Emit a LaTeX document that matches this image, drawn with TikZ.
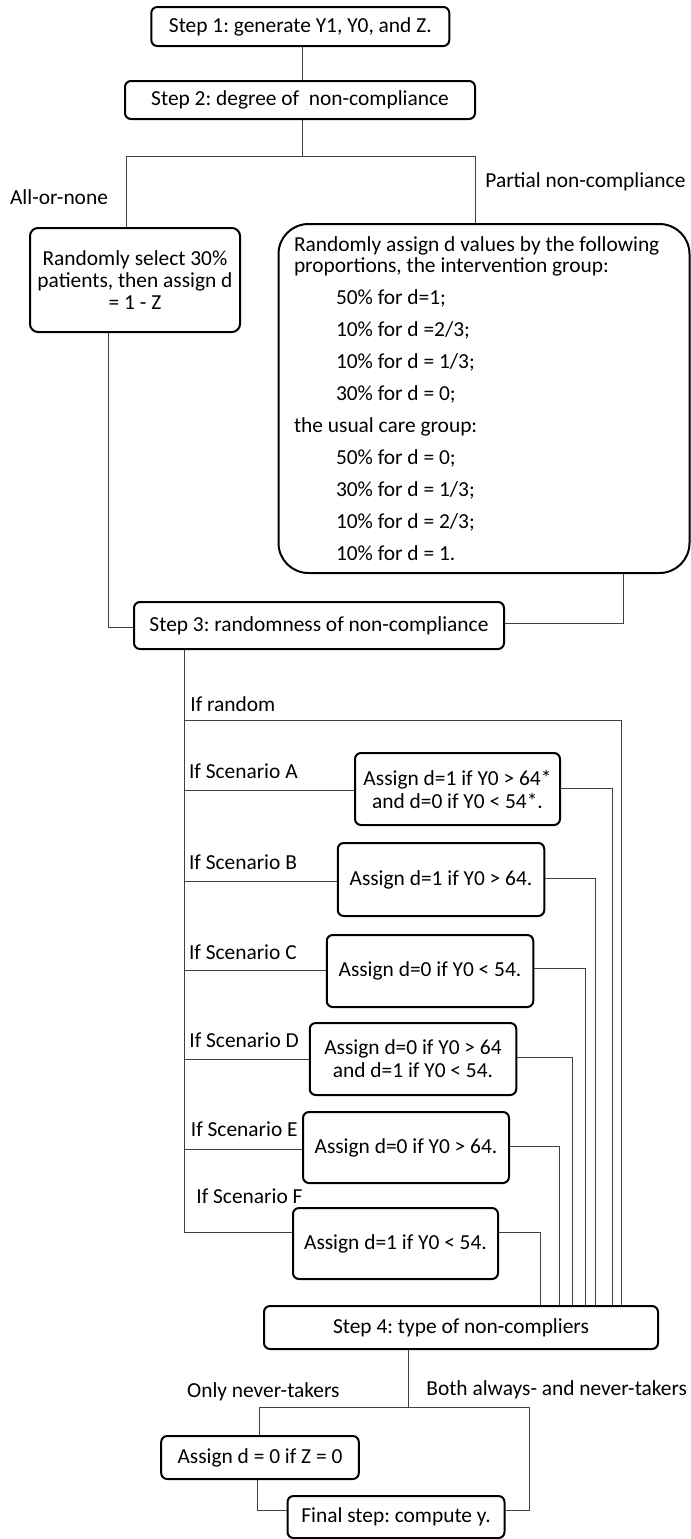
\documentclass[tikz,border=0pt]{standalone}
\usepackage{fontspec}
\setmainfont{Carlito}
\frenchspacing
\begin{document}
\begin{tikzpicture}[x=0.5pt,y=-0.5pt,
  font=\fontsize{10.7}{11.5}\selectfont,
  box/.style={draw=black, line width=1pt, rounded corners=3pt, align=center, inner sep=0pt, fill=white},
  link/.style={draw=black!75, line width=0.5pt},
  lab/.style={anchor=west, inner sep=0pt}]
\useasboundingbox (0,0) rectangle (691,1539);

% ---- main steps ----
\node[box, minimum width=149pt, minimum height=19.5pt] (s1) at (300.3,26.5) {Step 1: generate Y1, Y0, and Z.};
\node[box, minimum width=175pt, minimum height=19pt] (s2) at (300,100) {Step 2: degree of~ non-compliance};

% ---- step 2 branches ----
\node[box, rounded corners=4pt, minimum width=105pt, minimum height=52pt,
      font=\fontsize{10.7}{11}\selectfont] (L) at (135,280)
  {Randomly select 30\%\\patients, then assign d\\= 1 - Z};
\node[box, rounded corners=15pt, minimum width=205.5pt, minimum height=174.5pt,
      text width=190pt, inner xsep=7.75pt, align=flush left,
      font=\fontsize{10.7}{10.5}\selectfont] (R) at (484,398.5)
  {Randomly assign d values by the following\\
   proportions, the intervention group:\\[5.5pt]
   \hspace*{21pt}50\% for d=1;\\[5.5pt]
   \hspace*{21pt}10\% for d =2/3;\\[5.5pt]
   \hspace*{21pt}10\% for d = 1/3;\\[5.5pt]
   \hspace*{21pt}30\% for d = 0;\\[5.5pt]
   the usual care group:\\[5.5pt]
   \hspace*{21pt}50\% for d = 0;\\[5.5pt]
   \hspace*{21pt}30\% for d = 1/3;\\[5.5pt]
   \hspace*{21pt}10\% for d = 2/3;\\[5.5pt]
   \hspace*{21pt}10\% for d = 1.};

\node[lab] (lAll) at (9.7,197) {All-or-none};
\node[lab] (lPart) at (485,182) {Partial non-compliance};

\node[box, minimum width=185pt, minimum height=23.5pt] (s3) at (319,625.5) {Step 3: randomness of non-compliance};

% ---- step 3 scenarios ----
\node[box, minimum width=102.5pt, minimum height=36pt] (A) at (457.5,789) {Assign d=1 if Y0 > 64*\\and d=0 if Y0 < 54*.};
\node[box, minimum width=103.25pt, minimum height=36.5pt] (B) at (441,879.5) {Assign d=1 if Y0 > 64.};
\node[box, minimum width=103.25pt, minimum height=36pt] (C) at (430,971) {Assign d=0 if Y0 < 54.};
\node[box, minimum width=103.25pt, minimum height=36pt] (D) at (413,1059) {Assign d=0 if Y0 > 64\\and d=1 if Y0 < 54.};
\node[box, minimum width=103pt, minimum height=35.5pt] (E) at (406,1147.5) {Assign d=0 if Y0 > 64.};
\node[box, minimum width=102.5pt, minimum height=35.5pt] (F) at (395.5,1243.5) {Assign d=1 if Y0 < 54.};

\node[lab] (lRand) at (190,704) {If random};
\node[lab] (lA) at (188.6,771) {If Scenario A};
\node[lab] (lB) at (188.6,862) {If Scenario B};
\node[lab] (lC) at (188.6,952) {If Scenario C};
\node[lab] (lD) at (189,1040) {If Scenario D};
\node[lab] (lE) at (190.5,1129) {If Scenario E};
\node[lab] (lF) at (196,1196) {If Scenario F};

\node[box, minimum width=197pt, minimum height=21.5pt] (s4) at (461,1327.5) {Step 4: type of non-compliers};

% ---- step 4 branches ----
\node[box, minimum width=98.8pt, minimum height=21.5pt] (G) at (260,1457.5) {Assign d = 0 if Z = 0};
\node[box, minimum width=108.5pt, minimum height=21pt] (fin) at (396,1517) {Final step: compute y.};

\node[lab] (lOnly) at (186.7,1392) {Only never-takers};
\node[lab] (lBoth) at (426,1390) {Both always- and never-takers};

% ---- connectors: steps 1-2 ----
\coordinate (j2) at (302,156);
\coordinate (j2l) at (126.5,156);
\coordinate (j2r) at (475,156);
\draw[link] (s1.south -| j2) -- (s2.north -| j2);
\draw[link] (s2.south -| j2) -- (j2);
\draw[link] (j2l) -- (j2r);
\draw[link] (j2l) -- (L.north -| j2l);
\draw[link] (j2r) -- (R.north -| j2r);

% ---- connectors: into step 3 ----
\coordinate (xl) at (108,627);
\coordinate (xr) at (623.6,623);
\draw[link] (L.south -| xl) -- (xl) -- (s3.west |- xl);
\draw[link] (R.south -| xr) -- (xr) -- (s3.east |- xr);

% ---- connectors: step 3 trunk and scenarios ----
\coordinate (tR) at (184,720);
\coordinate (tA) at (184,790);
\coordinate (tB) at (184,881);
\coordinate (tC) at (184,970);
\coordinate (tD) at (184,1059);
\coordinate (tE) at (184,1149);
\coordinate (tF) at (184,1232);
\coordinate (kR) at (621.4,720);
\coordinate (kA) at (612,788);
\coordinate (kB) at (595,878);
\coordinate (kC) at (585,968);
\coordinate (kD) at (572,1057);
\coordinate (kE) at (559,1146);
\coordinate (kF) at (540,1232);

\draw[link] (s3.south -| tF) -- (tF);
\draw[link] (tR) -- (kR) -- (kR |- s4.north);
\draw[link] (tA) -- (A.west |- tA);
\draw[link] (tB) -- (B.west |- tB);
\draw[link] (tC) -- (C.west |- tC);
\draw[link] (tD) -- (D.west |- tD);
\draw[link] (tE) -- (E.west |- tE);
\draw[link] (tF) -- (F.west |- tF);
\draw[link] (A.east |- kA) -- (kA) -- (kA |- s4.north);
\draw[link] (B.east |- kB) -- (kB) -- (kB |- s4.north);
\draw[link] (C.east |- kC) -- (kC) -- (kC |- s4.north);
\draw[link] (D.east |- kD) -- (kD) -- (kD |- s4.north);
\draw[link] (E.east |- kE) -- (kE) -- (kE |- s4.north);
\draw[link] (F.east |- kF) -- (kF) -- (kF |- s4.north);

% ---- connectors: step 4 to final step ----
\coordinate (j4) at (408,1407);
\coordinate (j4l) at (259.4,1407);
\coordinate (j4r) at (529.7,1407);
\coordinate (g1) at (257.6,1510);
\coordinate (g2) at (529.7,1510);
\draw[link] (s4.south -| j4) -- (j4);
\draw[link] (j4l) -- (j4r);
\draw[link] (j4l) -- (G.north -| j4l);
\draw[link] (G.south -| g1) -- (g1) -- (fin.west |- g1);
\draw[link] (j4r) -- (g2) -- (fin.east |- g2);
\end{tikzpicture}
\end{document}
